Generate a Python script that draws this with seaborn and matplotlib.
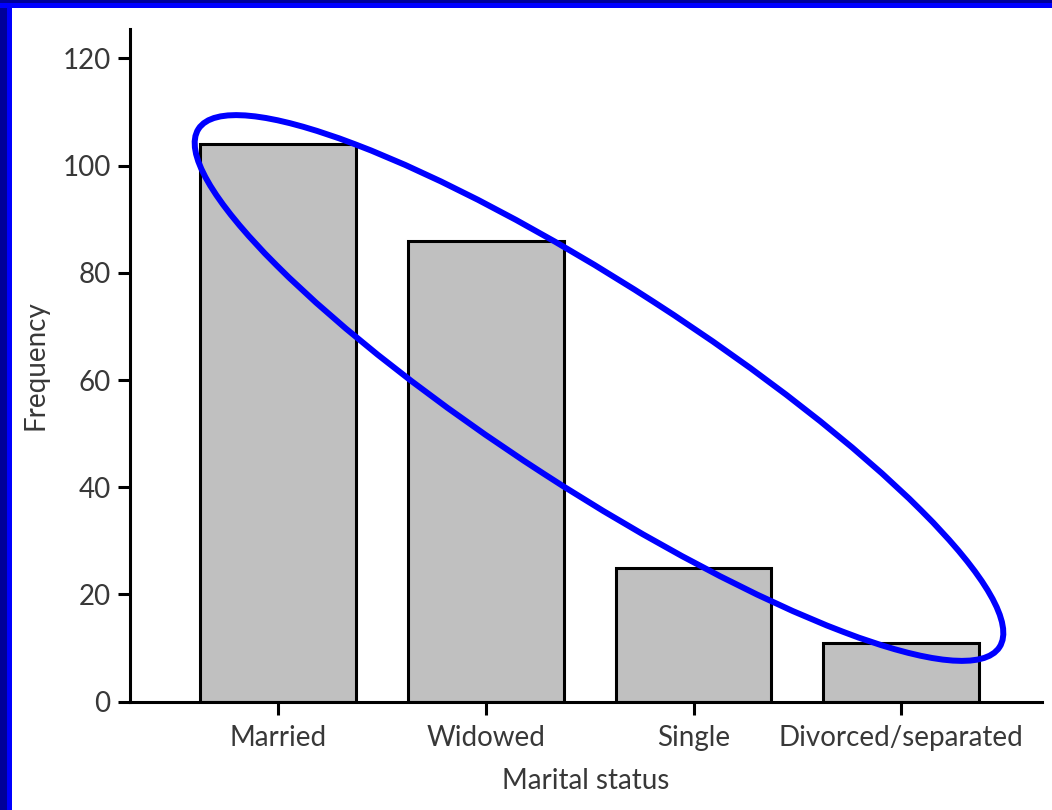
import matplotlib
matplotlib.use("Agg")
import matplotlib.pyplot as plt
from matplotlib.patches import Ellipse, Rectangle
import seaborn as sns

# Данные
categories = ["Married", "Widowed", "Single", "Divorced/separated"]
frequency = [104, 86, 25, 11]
y_ticks = [0, 20, 40, 60, 80, 100, 120]

sns.set_theme(style="white")
plt.rcParams["font.family"] = ["Lato", "DejaVu Sans"]

fig = plt.figure(figsize=(10.52, 8.10), dpi=100)
fig.patch.set_facecolor("white")
ax = fig.add_axes([0.1236, 0.1337, 0.867, 0.8305])

sns.barplot(x=categories, y=frequency, color="#c0c0c0", saturation=1,
            edgecolor="black", linewidth=2.2, width=0.75, ax=ax)

ax.set_xlim(-0.714, 3.679)
ax.set_ylim(0, 125.5)
ax.set_yticks(y_ticks)
sns.despine(ax=ax)
for side in ["left", "bottom"]:
    ax.spines[side].set_linewidth(2.2)
    ax.spines[side].set_color("black")
ax.tick_params(axis="both", direction="out", length=9, width=2.2,
               bottom=True, left=True,
               color="black", labelsize=20, labelcolor="#383838", pad=5)
ax.tick_params(axis="x", pad=8)
ax.set_xlabel("Marital status", fontsize=20, color="#383838", labelpad=12)
ax.set_ylabel("Frequency", fontsize=20, color="#383838", labelpad=10)

# Выделяющий эллипс (в дюймах фигуры)
ell_center = (5.99, 4.22)
ell_width = 9.54
ell_height = 2.04
ell_angle = -32.9
fig.add_artist(Ellipse(ell_center, ell_width, ell_height, angle=ell_angle,
                       transform=fig.dpi_scale_trans, fill=False,
                       edgecolor="#0000ff", linewidth=4.3, zorder=10))

# Синяя рамка сверху и слева
fig.add_artist(Rectangle((0, 0), 0.12, 8.10, transform=fig.dpi_scale_trans,
                         facecolor="#0000ff", edgecolor="none"))
fig.add_artist(Rectangle((0, 0), 0.07, 8.10, transform=fig.dpi_scale_trans,
                         facecolor="#00009a", edgecolor="none"))
fig.add_artist(Rectangle((0, 8.02), 10.52, 0.08, transform=fig.dpi_scale_trans,
                         facecolor="#0000ff", edgecolor="none"))
fig.add_artist(Rectangle((0, 8.07), 10.52, 0.03, transform=fig.dpi_scale_trans,
                         facecolor="#00009a", edgecolor="none"))

fig.savefig("out.png", dpi=100)
